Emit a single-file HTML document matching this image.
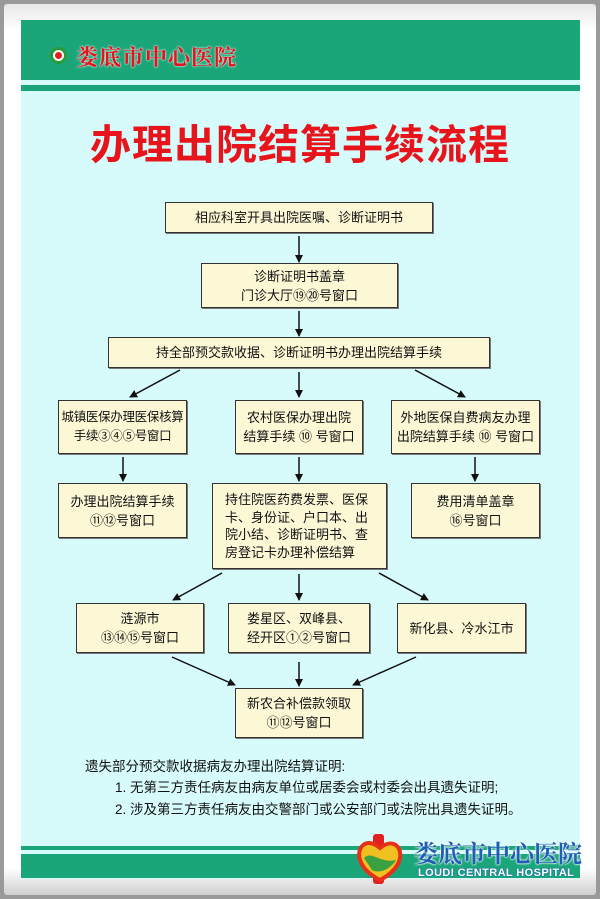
<!DOCTYPE html>
<html><head><meta charset="utf-8"><style>
*{margin:0;padding:0;box-sizing:border-box}
body{width:600px;height:899px;position:relative;overflow:hidden;background:#9a9a9a;font-family:"Liberation Sans","Noto Sans CJK SC",sans-serif}
.frame{position:absolute;left:4px;top:4px;width:592px;height:891px;background:linear-gradient(#e8e8e8,#fff 3%,#fff 97%,#cfcfcf);border-radius:3px}
.panel{position:absolute;left:21px;top:20px;width:559px;height:859px;background:#d7fbfb}
.g{position:absolute;left:21px;width:559px;background:#1ba67a}
.box{position:absolute;background:#fcf8d6;border:1.5px solid #333;box-shadow:1px 1px 0 #777;display:flex;align-items:center;justify-content:center;text-align:center;font-size:13px;line-height:19px;color:#111;white-space:nowrap}
.note{position:absolute;font-size:13.5px;color:#111;white-space:nowrap}
</style></head><body>
<div class="frame"></div>
<div class="panel"></div>
<div class="g" style="top:20px;height:60px"></div>
<div class="g" style="top:85px;height:6px"></div>
<div class="g" style="top:846px;height:4px"></div>
<div class="g" style="top:854px;height:24px"></div>
<div style="position:absolute;left:50px;top:47px;width:17px;height:17px;border-radius:50%;background:#fff;border:3px solid #2a9a3a"><div style="margin:2px;width:7px;height:7px;border-radius:50%;background:#e02020"></div></div>
<div style="position:absolute;left:76px;top:41px;font-size:22px;font-weight:bold;color:#e0141c;font-family:'Noto Serif CJK SC',serif;letter-spacing:1px;text-shadow:0 0 2px #fff,0 0 1px #fff">娄底市中心医院</div>
<div style="position:absolute;left:0;width:600px;top:120px;text-align:center;font-size:41px;font-weight:bold;color:#e8141c;letter-spacing:1px;line-height:50px">办理出院结算手续流程</div>

<svg style="position:absolute;left:0;top:0" width="600" height="899">
<defs><marker id="a" markerWidth="8" markerHeight="8" refX="7" refY="4" orient="auto" markerUnits="userSpaceOnUse"><path d="M0,0L8,4L0,8z" fill="#111"/></marker></defs>
<g stroke="#111" stroke-width="1.5" marker-end="url(#a)">
<line x1="299" y1="236" x2="299" y2="262"/>
<line x1="299" y1="311" x2="299" y2="336"/>
<line x1="180" y1="370" x2="130" y2="397"/>
<line x1="299" y1="372" x2="299" y2="397"/>
<line x1="415" y1="370" x2="465" y2="397"/>
<line x1="123" y1="457" x2="123" y2="481"/>
<line x1="299" y1="457" x2="299" y2="481"/>
<line x1="475" y1="457" x2="475" y2="481"/>
<line x1="222" y1="573" x2="173" y2="600"/>
<line x1="299" y1="574" x2="299" y2="600"/>
<line x1="379" y1="573" x2="428" y2="600"/>
<line x1="172" y1="657" x2="235" y2="685"/>
<line x1="299" y1="662" x2="299" y2="686"/>
<line x1="416" y1="657" x2="353" y2="685"/>
</g></svg>

<div class="box" style="left:165px;top:202px;width:268px;height:31px">相应科室开具出院医嘱、诊断证明书</div>
<div class="box" style="left:201px;top:263px;width:197px;height:45px">诊断证明书盖章<br>门诊大厅⑲⑳号窗口</div>
<div class="box" style="left:108px;top:337px;width:382px;height:31px">持全部预交款收据、诊断证明书办理出院结算手续</div>
<div class="box" style="left:58px;top:400px;width:129px;height:54px;font-size:12.5px;letter-spacing:-0.3px">城镇医保办理医保核算<br>手续③④⑤号窗口</div>
<div class="box" style="left:235px;top:400px;width:128px;height:54px">农村医保办理出院<br>结算手续 ⑩ 号窗口</div>
<div class="box" style="left:391px;top:400px;width:149px;height:54px">外地医保自费病友办理<br>出院结算手续 ⑩ 号窗口</div>
<div class="box" style="left:58px;top:483px;width:129px;height:55px">办理出院结算手续<br>⑪⑫号窗口</div>
<div class="box" style="left:212px;top:483px;width:175px;height:86px;text-align:left;justify-content:flex-start;padding-left:12px;line-height:17.5px">持住院医药费发票、医保<br>卡、身份证、户口本、出<br>院小结、诊断证明书、查<br>房登记卡办理补偿结算</div>
<div class="box" style="left:411px;top:483px;width:129px;height:55px">费用清单盖章<br>⑯号窗口</div>
<div class="box" style="left:76px;top:603px;width:128px;height:50px">涟源市<br>⑬⑭⑮号窗口</div>
<div class="box" style="left:228px;top:603px;width:142px;height:50px">娄星区、双峰县、<br>经开区①②号窗口</div>
<div class="box" style="left:397px;top:603px;width:129px;height:50px">新化县、冷水江市</div>
<div class="box" style="left:235px;top:688px;width:128px;height:50px">新农合补偿款领取<br>⑪⑫号窗口</div>

<div class="note" style="left:85px;top:755px">遗失部分预交款收据病友办理出院结算证明:</div>
<div class="note" style="left:115px;top:776px">1. 无第三方责任病友由病友单位或居委会或村委会出具遗失证明;</div>
<div class="note" style="left:115px;top:798px">2. 涉及第三方责任病友由交警部门或公安部门或法院出具遗失证明。</div>

<svg style="position:absolute;left:356px;top:834px" width="48" height="50">
<rect x="17" y="0" width="11" height="50" rx="3" fill="#e02020"/>
<path d="M24,14 C10,2 0,14 4,26 C8,38 20,44 24,46 C28,44 42,36 44,24 C46,12 36,4 24,14z" fill="#f0c020" stroke="#e83018" stroke-width="4"/>
<path d="M8,24 C16,16 24,30 40,26 C34,36 22,40 16,36z" fill="#3aa040"/>
</svg>
<div style="position:absolute;left:414px;top:834px;font-size:24px;font-weight:bold;color:#1d5fb5;font-family:'Noto Serif CJK SC',serif;text-shadow:0 0 2px #fff,0 0 2px #fff,0 0 1px #fff;white-space:nowrap">娄底市中心医院</div>
<div style="position:absolute;left:418px;top:867px;font-size:11px;font-weight:bold;color:#fff;letter-spacing:0.4px;white-space:nowrap;text-shadow:0 0 1px #1d5fb5,0 0 1px #1d5fb5,0 0 1px #1d5fb5">LOUDI CENTRAL HOSPITAL</div>
</body></html>
